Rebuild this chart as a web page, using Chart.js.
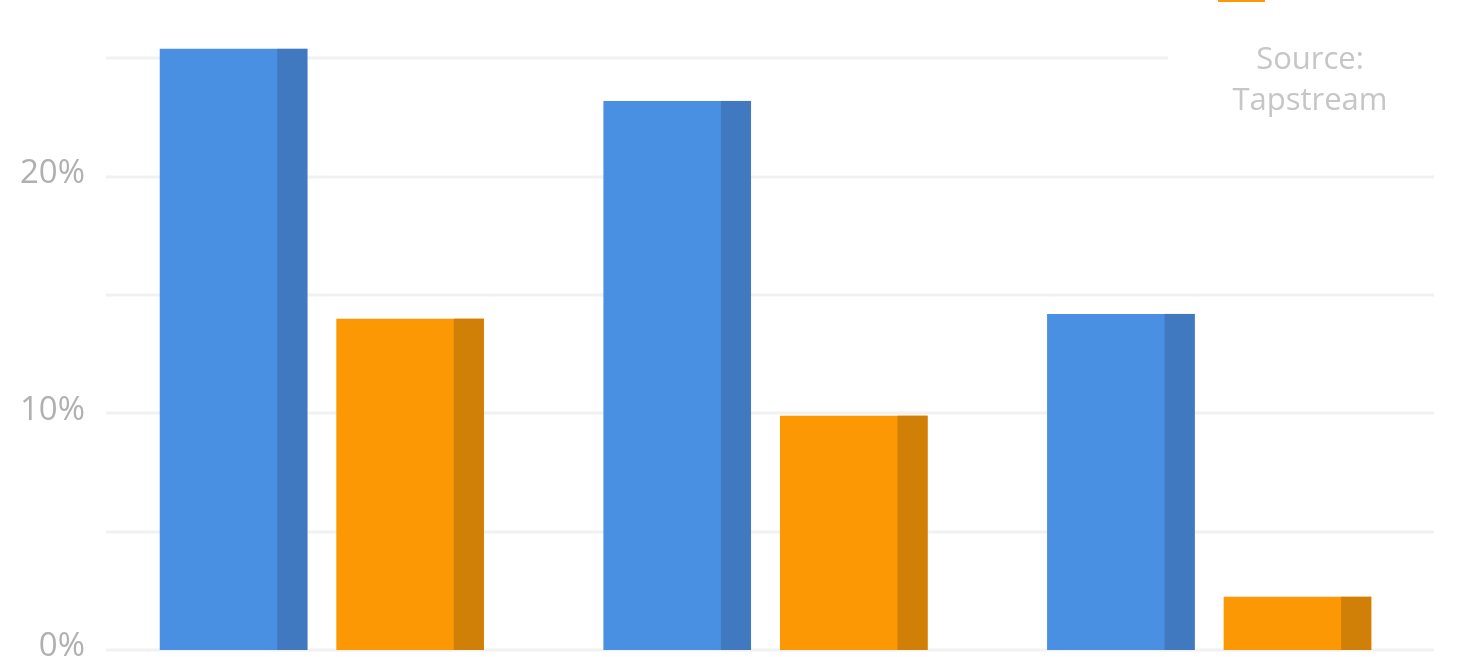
<!DOCTYPE html>
<html>
<head>
<meta charset="utf-8">
<script src="https://cdn.jsdelivr.net/npm/chart.js@4.4.1/dist/chart.umd.min.js"></script>
<style>
  html, body { margin: 0; padding: 0; background: #fff; overflow: hidden; }
  #wrap { position: absolute; left: 0; top: -100px; width: 1460px; height: 850px; }
</style>
</head>
<body>
<div id="wrap"><canvas id="c"></canvas></div>
<script>
// ---- data ----
const categories = ['Group A', 'Group B', 'Group C'];
const seriesNames = ['Series 1', 'Series 2'];
const blueValues = [25.4, 23.2, 14.2];
const orangeValues = [14.0, 9.9, 2.25];
const yTickStep = 5;
const yMax = 30;
const sourceLines = ['Source:', 'Tapstream'];

// ---- styles ----
const BLUE = '#4a90e2', BLUE_DARK = '#4179c0';
const ORANGE = '#fb9804', ORANGE_DARK = '#d18007';
const GRID = '#f1f1f1';
const TICK_COLOR = '#b0b0b0';
const SOURCE_COLOR = '#c6c6c6';
const FONT = '"Open Sans", Lato, sans-serif';

const shadePlugin = {
  id: 'shade',
  beforeDatasetsDraw(chart) {
    const ctx = chart.ctx, y = chart.scales.y, a = chart.chartArea;
    ctx.save();
    ctx.strokeStyle = GRID;
    ctx.lineWidth = 3;
    y.ticks.forEach(t => {
      const py = Math.round(y.getPixelForValue(t.value));
      ctx.beginPath();
      ctx.moveTo(a.left + 6, py);
      ctx.lineTo(a.right + 3, py);
      ctx.stroke();
    });
    ctx.restore();
  },
  afterDatasetsDraw(chart) {
    const ctx = chart.ctx;
    const darks = [BLUE_DARK, ORANGE_DARK];
    ctx.save();
    chart.data.datasets.forEach((ds, i) => {
      const meta = chart.getDatasetMeta(i);
      ctx.fillStyle = darks[i];
      meta.data.forEach(el => {
        const p = el.getProps(['x', 'y', 'base', 'width'], true);
        const dw = p.width * 0.204;
        ctx.fillRect(p.x + p.width / 2 - dw, p.y, dw, p.base - p.y);
      });
    });
    ctx.restore();
  },
  afterDraw(chart) {
    const ctx = chart.ctx;
    ctx.save();
    // legend stub (cut off at top of view)
    ctx.fillStyle = ORANGE;
    ctx.fillRect(1218, 86, 47, 16);
    // source box
    ctx.fillStyle = '#fff';
    ctx.fillRect(1168, 130, 1460 - 1168, 100);
    ctx.fillStyle = SOURCE_COLOR;
    ctx.font = '400 31px ' + FONT;
    ctx.textAlign = 'center';
    ctx.textBaseline = 'alphabetic';
    ctx.fillText(sourceLines[0], 1310, 169);
    ctx.fillText(sourceLines[1], 1310, 210);
    ctx.restore();
  }
};

new Chart(document.getElementById('c'), {
  type: 'bar',
  data: {
    labels: categories,
    datasets: [
      { label: seriesNames[0], data: blueValues, backgroundColor: BLUE,
        categoryPercentage: 0.796, barPercentage: 0.836 },
      { label: seriesNames[1], data: orangeValues, backgroundColor: ORANGE,
        categoryPercentage: 0.796, barPercentage: 0.836 }
    ]
  },
  options: {
    responsive: true,
    maintainAspectRatio: false,
    animation: false,
    layout: { padding: { top: 40, bottom: 100, left: 0, right: 29 } },
    plugins: { legend: { display: false }, tooltip: { enabled: false } },
    scales: {
      x: { display: false },
      y: {
        min: 0, max: yMax,
        border: { display: false },
        grid: { display: false, drawTicks: false },
        afterFit(scale) { scale.width = 100; },
        ticks: {
          stepSize: yTickStep,
          autoSkip: false,
          padding: 15,
          labelOffset: -3,
          color: TICK_COLOR,
          font: { family: FONT, size: 33, weight: '400' },
          callback: v => (v % 10 === 0 ? v + '%' : '')
        }
      }
    }
  },
  plugins: [shadePlugin]
});
</script>
</body>
</html>
